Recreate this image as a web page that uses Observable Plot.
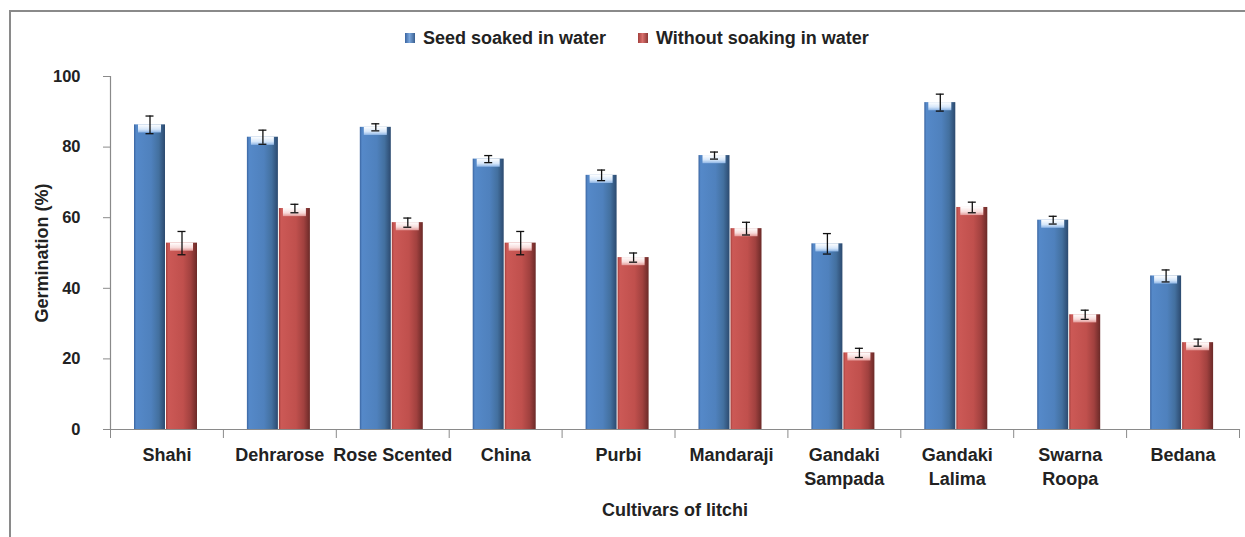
<!DOCTYPE html>
<html>
<head>
<meta charset="utf-8">
<script src="https://cdn.jsdelivr.net/npm/d3@7"></script>
<script src="https://cdn.jsdelivr.net/npm/@observablehq/plot@0.6"></script>
<style>
  html, body { margin: 0; padding: 0; background: #fff; }
  body { width: 1245px; height: 537px; position: relative; overflow: hidden;
         font-family: "Liberation Sans Narrow", "Liberation Sans", sans-serif; font-weight: bold; color: #222; }
  #border { position: absolute; left: 9px; top: 10px; width: 1240px; height: 530px;
            border-left: 2px solid #8a8a8a; border-top: 2px solid #8a8a8a; }
  #legend { position: relative; height: 55px; }
  .item { position: absolute; top: 27px; font-size: 18px; line-height: 22px; white-space: nowrap; }
  .sw { display: inline-block; width: 10px; height: 10px; margin-right: 8px; vertical-align: 1px; }
  #chart { position: relative; }
</style>
</head>
<body>
<div id="border"></div>
<div id="legend"></div>
<div id="chart"></div>
<script>
const cultivars = ["Shahi", "Dehrarose", "Rose Scented", "China", "Purbi", "Mandaraji",
  "Gandaki\nSampada", "Gandaki\nLalima", "Swarna\nRoopa", "Bedana"];
const seriesNames = ["Seed soaked in water", "Without soaking in water"];
const soaked =     [86.3, 82.8, 85.6, 76.6, 72.0, 77.6, 52.6, 92.6, 59.3, 43.5];
const soakedErr =  [2.5, 2.0, 1.0, 1.0, 1.5, 1.0, 2.9, 2.4, 1.1, 1.7];
const without =    [52.8, 62.6, 58.6, 52.8, 48.7, 56.9, 21.7, 62.9, 32.5, 24.6];
const withoutErr = [3.3, 1.2, 1.3, 3.3, 1.3, 1.8, 1.3, 1.5, 1.3, 1.0];
const yTicks = [0, 20, 40, 60, 80, 100];

const rows = cultivars.map((c, i) => ({
  cultivar: c,
  s: soaked[i], se: soakedErr[i],
  w: without[i], we: withoutErr[i]
}));

// legend (HTML, above the SVG)
const legend = document.getElementById("legend");
const legendLeft = [405, 638];
seriesNames.forEach((name, i) => {
  const it = document.createElement("div");
  it.className = "item";
  it.style.left = legendLeft[i] + "px";
  it.innerHTML = `<span class="sw" style="background:linear-gradient(90deg, ${i ? "#a33f3c,#d8706d 45%,#8c3836" : "#3a64a0,#7aa6dc 45%,#3a5f8f"});"></span>${name}`;
  legend.appendChild(it);
});

const W = 1245, H = 482, mL = 110, mR = 6, mT = 21, mB = 108;
const step = (W - mL - mR) / cultivars.length;
// bar geometry inside each band (styles)
const b1L = 24, b1W = 31, b2L = 56, b2W = 31;
const capHalf = 4;

const plot = Plot.plot({
  width: W, height: H,
  marginLeft: mL, marginRight: mR, marginTop: mT, marginBottom: mB,
  style: { fontFamily: "'Liberation Sans Narrow', 'Liberation Sans', sans-serif", fontWeight: "bold", color: "#222", background: "transparent" },
  x: { domain: cultivars, padding: 0, round: false, label: null },
  y: { domain: [0, 100], ticks: yTicks, label: null },
  marks: [
    // soaked bars
    Plot.barY(rows, { x: "cultivar", y: "s", fill: "url(#gBlue)", ariaLabel: "bar-soaked",
      insetLeft: b1L, insetRight: step - b1L - b1W }),
    Plot.barY(rows, { x: "cultivar", y1: d => d.s - 2.3, y2: "s", fill: "url(#hBlue)",
      insetLeft: b1L + 4, insetRight: step - b1L - b1W + 4 }),
    // without bars
    Plot.barY(rows, { x: "cultivar", y: "w", fill: "url(#gRed)", ariaLabel: "bar-without",
      insetLeft: b2L, insetRight: step - b2L - b2W }),
    Plot.barY(rows, { x: "cultivar", y1: d => d.w - 2.3, y2: "w", fill: "url(#hRed)",
      insetLeft: b2L + 4, insetRight: step - b2L - b2W + 4 }),
    // error bars
    Plot.ruleX(rows, { x: "cultivar", y1: d => d.s - d.se, y2: d => d.s + d.se,
      dx: b1L + b1W / 2 - step / 2, stroke: "#111", strokeWidth: 1.3 }),
    Plot.tickY(rows, { x: "cultivar", y: d => d.s - d.se, stroke: "#111", strokeWidth: 1.3,
      insetLeft: b1L + b1W / 2 - capHalf, insetRight: step - b1L - b1W / 2 - capHalf }),
    Plot.tickY(rows, { x: "cultivar", y: d => d.s + d.se, stroke: "#111", strokeWidth: 1.3,
      insetLeft: b1L + b1W / 2 - capHalf, insetRight: step - b1L - b1W / 2 - capHalf }),
    Plot.ruleX(rows, { x: "cultivar", y1: d => d.w - d.we, y2: d => d.w + d.we,
      dx: b2L + b2W / 2 - step / 2, stroke: "#111", strokeWidth: 1.3 }),
    Plot.tickY(rows, { x: "cultivar", y: d => d.w - d.we, stroke: "#111", strokeWidth: 1.3,
      insetLeft: b2L + b2W / 2 - capHalf, insetRight: step - b2L - b2W / 2 - capHalf }),
    Plot.tickY(rows, { x: "cultivar", y: d => d.w + d.we, stroke: "#111", strokeWidth: 1.3,
      insetLeft: b2L + b2W / 2 - capHalf, insetRight: step - b2L - b2W / 2 - capHalf }),
    // axes lines
    Plot.frame({ anchor: "left", stroke: "#8a8a8a", strokeWidth: 1.2 }),
    Plot.frame({ anchor: "bottom", stroke: "#8a8a8a", strokeWidth: 1.2 }),
    Plot.axisY({ ticks: yTicks, tickSize: 7, tickPadding: 23, stroke: "#8a8a8a",
      fontSize: 16.5, fill: "#222", label: null }),
    Plot.axisY({ ticks: [], tickSize: 0, fontSize: 18, fill: "#222",
      label: "Germination (%)", labelAnchor: "center", labelArrow: "none", labelOffset: 75 }),
    // category boundary ticks
    Plot.axisX({ tickSize: 9, tickFormat: () => "", dx: -step / 2, stroke: "#8a8a8a", label: null }),
    Plot.axisX([cultivars[cultivars.length - 1]], { tickSize: 9, tickFormat: () => "", dx: step / 2, stroke: "#8a8a8a", label: null }),
    // category labels
    Plot.axisX({ tickSize: 0, tickPadding: 15, fontSize: 18, fill: "#222", lineHeight: 1.3,
      label: null }),
    Plot.axisX({ ticks: [], tickSize: 0, fontSize: 18, fill: "#222",
      label: "Cultivars of litchi", labelAnchor: "center", labelArrow: "none", labelOffset: 86 })
  ]
});

// gradients and glow for the bevelled bars
const defs = `
<defs>
 <linearGradient id="gBlue" x1="0" x2="1" y1="0" y2="0">
  <stop offset="0" stop-color="#3a64a0"/><stop offset="0.07" stop-color="#5589c9"/>
  <stop offset="0.55" stop-color="#4f81bd"/><stop offset="0.8" stop-color="#43709f"/>
  <stop offset="1" stop-color="#2c4a6f"/>
 </linearGradient>
 <linearGradient id="gRed" x1="0" x2="1" y1="0" y2="0">
  <stop offset="0" stop-color="#a33f3c"/><stop offset="0.07" stop-color="#cc5956"/>
  <stop offset="0.55" stop-color="#c0504d"/><stop offset="0.8" stop-color="#a1413f"/>
  <stop offset="1" stop-color="#6b2a28"/>
 </linearGradient>
 <linearGradient id="hBlue" x1="0" x2="0" y1="0" y2="1">
  <stop offset="0" stop-color="#ffffff"/><stop offset="0.6" stop-color="#d6e7fa"/>
  <stop offset="1" stop-color="#8fb6e6"/>
 </linearGradient>
 <linearGradient id="hRed" x1="0" x2="0" y1="0" y2="1">
  <stop offset="0" stop-color="#ffffff"/><stop offset="0.6" stop-color="#f8dcdb"/>
  <stop offset="1" stop-color="#e39a98"/>
 </linearGradient>
 <filter id="glowBlue" x="-30%" y="-5%" width="160%" height="110%">
  <feDropShadow dx="2" dy="0" stdDeviation="2" flood-color="#9b8ff0" flood-opacity="0.45"/>
 </filter>
 <filter id="glowRed" x="-30%" y="-5%" width="160%" height="110%">
  <feDropShadow dx="2" dy="0" stdDeviation="2" flood-color="#ff8080" flood-opacity="0.45"/>
 </filter>
</defs>`;
plot.insertAdjacentHTML("afterbegin", defs);
plot.querySelectorAll('g[aria-label="bar-soaked"] rect').forEach(r => r.setAttribute("filter", "url(#glowBlue)"));
plot.querySelectorAll('g[aria-label="bar-without"] rect').forEach(r => r.setAttribute("filter", "url(#glowRed)"));
document.getElementById("chart").appendChild(plot);
</script>
</body>
</html>
